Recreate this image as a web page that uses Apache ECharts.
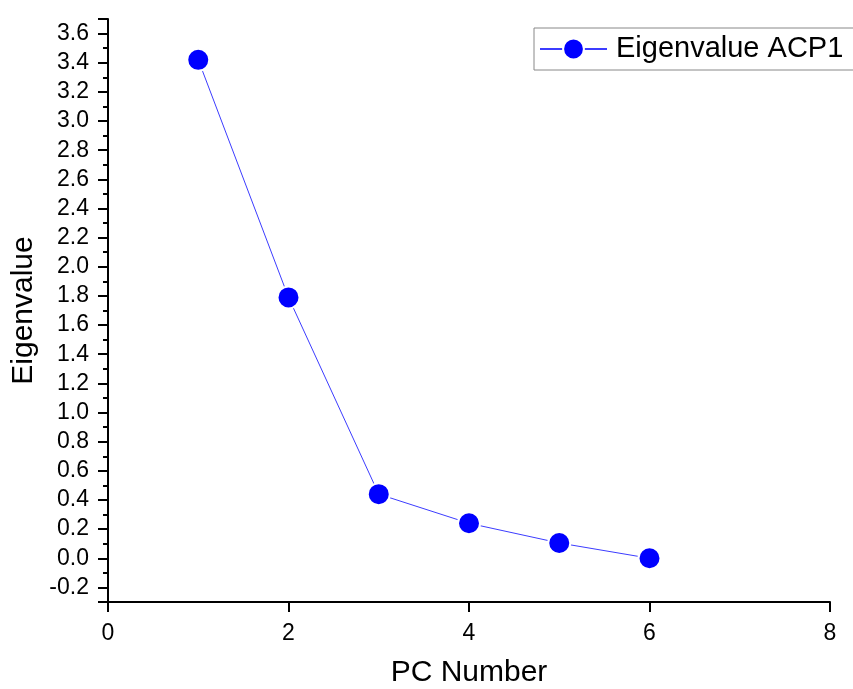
<!DOCTYPE html>
<html>
<head>
<meta charset="utf-8">
<script src="https://cdn.jsdelivr.net/npm/echarts@6/dist/echarts.min.js"></script>
<style>
html,body{margin:0;padding:0;background:#fff;}
#main{width:853px;height:689px;}
</style>
</head>
<body>
<div id="main"></div>
<script>
const pcNumbers = [1, 2, 3, 4, 5, 6];
const eigenvalues = [3.42, 1.79, 0.44, 0.24, 0.105, 0.0];
const seriesName = 'Eigenvalue ACP1';
const xAxisTitle = 'PC Number';
const yAxisTitle = 'Eigenvalue';

const FONT = '"Liberation Sans", Arial, sans-serif';
const chart = echarts.init(document.getElementById('main'), null, {renderer: 'canvas'});
chart.setOption({
  animation: false,
  backgroundColor: '#ffffff',
  grid: {left: 108, top: 19, right: 23, bottom: 87, containLabel: false, outerBoundsMode: 'none'},
  legend: {
    left: 534, top: 28,
    data: [seriesName],
    itemWidth: 67, itemHeight: 26,
    padding: [6, 60, 6, 5],
    borderColor: '#888888', borderWidth: 1,
    textStyle: {fontFamily: FONT, fontSize: 29, color: '#000', lineHeight: 30, padding: [0,0,0,4]}
  },
  xAxis: {
    type: 'value', min: 0, max: 8, interval: 2,
    name: xAxisTitle, nameLocation: 'middle', nameGap: 56,
    nameTextStyle: {fontFamily: FONT, fontSize: 30, color: '#000'},
    axisLine: {show: true, onZero: false, lineStyle: {color: '#000', width: 2}},
    axisTick: {show: true, inside: false, length: 10, lineStyle: {color: '#000', width: 2}},
    axisLabel: {fontFamily: FONT, fontSize: 23, color: '#000', margin: 20},
    splitLine: {show: false}
  },
  yAxis: {
    type: 'value', min: -0.3, max: 3.7, splitNumber: 20,
    name: yAxisTitle, nameLocation: 'middle', nameGap: 64,
    nameTextStyle: {fontFamily: FONT, fontSize: 30, color: '#000'},
    axisLine: {show: true, onZero: false, lineStyle: {color: '#000', width: 2}},
    axisTick: {show: true, inside: false, length: 10, lineStyle: {color: '#000', width: 2}},
    minorTick: {show: true, splitNumber: 2, length: 5, lineStyle: {color: '#000', width: 2}},
    axisLabel: {
      fontFamily: FONT, fontSize: 23, color: '#000', margin: 19,
      showMinLabel: false, showMaxLabel: false,
      formatter: function (v) {
        if (Math.abs(v * 5 - Math.round(v * 5)) > 1e-6) return '';
        return v.toFixed(1);
      }
    },
    splitLine: {show: false}
  },
  series: [{
    name: seriesName,
    type: 'line',
    data: pcNumbers.map((x, i) => [x, eigenvalues[i]]),
    symbol: 'circle',
    symbolSize: 22,
    lineStyle: {color: '#3c3cff', width: 1},
    itemStyle: {color: '#0000ff', borderColor: '#ffffff', borderWidth: 2},
    z: 3
  }]
});
</script>
</body>
</html>
